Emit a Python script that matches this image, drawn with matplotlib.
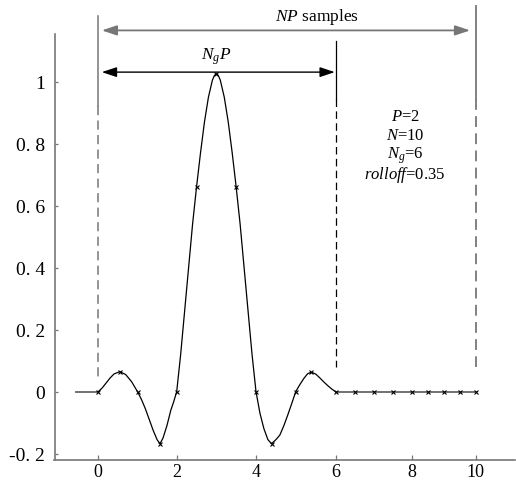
import numpy as np
import matplotlib
matplotlib.use("Agg")
import matplotlib.pyplot as plt

# --- data ---
curve_x = [0, 0.1, 0.2, 0.3, 0.4, 0.55, 0.7, 0.85, 1.0, 1.1, 1.2, 1.3, 1.4, 1.5, 1.574,
           1.65, 1.75, 1.85, 1.93, 2.0, 2.1, 2.25, 2.4, 2.5, 2.6, 2.7, 2.8, 2.9, 2.95, 3.0,
           3.05, 3.1, 3.2, 3.3, 3.4, 3.5, 3.6, 3.75, 3.9, 4.0, 4.1, 4.2, 4.3, 4.39, 4.5,
           4.6, 4.7, 4.8, 4.9, 5.0, 5.1, 5.2, 5.3, 5.39, 5.5, 5.6, 5.7, 5.8, 5.9, 6.0]
curve_y = [0, 0.012, 0.028, 0.044, 0.057, 0.0646, 0.055, 0.032, 0.0, -0.025, -0.055, -0.09,
           -0.125, -0.155, -0.168, -0.15, -0.11, -0.06, -0.03, 0.0, 0.12, 0.33, 0.54, 0.66,
           0.77, 0.87, 0.95, 1.005, 1.02, 1.026, 1.02, 1.005, 0.95, 0.87, 0.77, 0.66, 0.54,
           0.33, 0.12, 0.0, -0.07, -0.12, -0.155, -0.168, -0.155, -0.14, -0.11, -0.075,
           -0.038, 0.0, 0.022, 0.042, 0.058, 0.0626, 0.057, 0.045, 0.032, 0.02, 0.009, 0.0]

sample_x = [0, 0.55, 1, 1.574, 2, 2.5, 3, 3.5, 4, 4.39, 5, 5.39, 6,
            6.5, 7, 7.5, 8, 8.5, 9, 9.5, 10]
sample_y = [0, 0.0646, 0, -0.168, 0, 0.66, 1.026, 0.66, 0, -0.168, 0, 0.0626, 0,
            0, 0, 0, 0, 0, 0, 0, 0]

pre_x = [-0.57, 0]
pre_y = [0, 0]
tail_x = [6, 10]
tail_y = [0, 0]

xticks = [0, 2, 4, 6, 8, 10]
yticks = [-0.2, 0, 0.2, 0.4, 0.6, 0.8, 1]
ytick_labels = ["-0. 2", "0", "0. 2", "0. 4", "0. 6", "0. 8", "1"]

params = ["$P$=2", "$N$=10", "$N_g$=6", "$rolloff$=0.35"]

# --- fonts ---
plt.rcParams['font.family'] = ['Liberation Serif', 'DejaVu Serif']
plt.rcParams['mathtext.fontset'] = 'custom'
plt.rcParams['mathtext.rm'] = 'Liberation Serif'
plt.rcParams['mathtext.it'] = 'Liberation Serif:italic'

# the original x axis is not evenly spaced, follow its tick spacing
knots_x = [-100, -1.117, 0, 2, 4, 6, 8, 10, 11.22, 100]
knots_p = [54.5 - 98.883 * 39.2, 54.5, 98.3, 176.7, 256, 335.5, 411.5, 475.7, 515,
           515 + 88.78 * 32.1]


def fwd(x):
    return np.interp(x, knots_x, knots_p)


def inv(p):
    return np.interp(p, knots_p, knots_x)


fig = plt.figure(figsize=(5.16, 4.81), dpi=100)
ax = fig.add_axes([54.5 / 516, 1 - 460.7 / 481, (515 - 54.5) / 516, (460.7 - 35) / 481])
ax.set_xscale('function', functions=(fwd, inv))
ax.set_xlim(-1.117, 11.22)
ax.set_ylim(-0.2196, 1.154)

grey = '#777777'
ax.plot(pre_x, pre_y, color='#666666', lw=1.3)
ax.plot(tail_x, tail_y, color='#666666', lw=1.3)
ax.plot(curve_x, curve_y, color='black', lw=0.9)
ax.plot(sample_x, sample_y, ls='none', marker='x', ms=3, mew=0.8, color='black')

# vertical markers: solid top part, dashed lower part
dash = (0, (6, 3.5))
ax.plot([0, 0], [1.213, 0.922], color=grey, lw=1.1, clip_on=False)
ax.plot([0, 0], [0.922, 0.047], color=grey, lw=1.1, ls=dash)
ax.plot([6, 6], [1.132, 0.945], color='black', lw=0.9, clip_on=False)
ax.plot([6, 6], [0.945, 0.08], color='black', lw=0.9, ls=dash)
ax.plot([10, 10], [1.245, 0.945], color=grey, lw=1.3, clip_on=False)
ax.plot([10, 10], [0.945, 0.08], color=grey, lw=1.3, ls=dash)

# arrows
ax.annotate('', xy=(10, 1.1656), xytext=(0, 1.1656), annotation_clip=False,
            arrowprops=dict(arrowstyle='<|-|>,head_length=0.9,head_width=0.3',
                            color=grey, lw=1.3, shrinkA=2.5, shrinkB=4))
ax.annotate('', xy=(6, 1.031), xytext=(0, 1.031), annotation_clip=False,
            arrowprops=dict(arrowstyle='<|-|>,head_length=0.9,head_width=0.3',
                            color='black', lw=1.0, shrinkA=2.5, shrinkB=0.5))

ax.text(5.53, 1.213, '$NP$ samples', ha='center', va='center', fontsize=12.5, clip_on=False)
ax.text(3.0, 1.085, '$N_gP$', ha='center', va='center', fontsize=12.5)

for i, s in enumerate(params):
    ax.text(7.83, (392.7 - 117 - i * 19.5) / 309.7, s, ha='center', va='center', fontsize=12)

ax.set_xticks(xticks)
ax.set_xticklabels([str(t) for t in xticks])
ax.set_yticks(yticks)
ax.set_yticklabels(ytick_labels)
ax.tick_params(axis='x', direction='in', length=3.5, width=0.9, color=grey, labelsize=13, pad=2.5)
ax.tick_params(axis='y', direction='in', length=2.5, width=0.9, color=grey, labelsize=14, pad=7)

for side in ['top', 'right']:
    ax.spines[side].set_visible(False)
for side in ['left', 'bottom']:
    ax.spines[side].set_color(grey)
    ax.spines[side].set_linewidth(1.2)

plt.savefig('out.png', dpi=100)
